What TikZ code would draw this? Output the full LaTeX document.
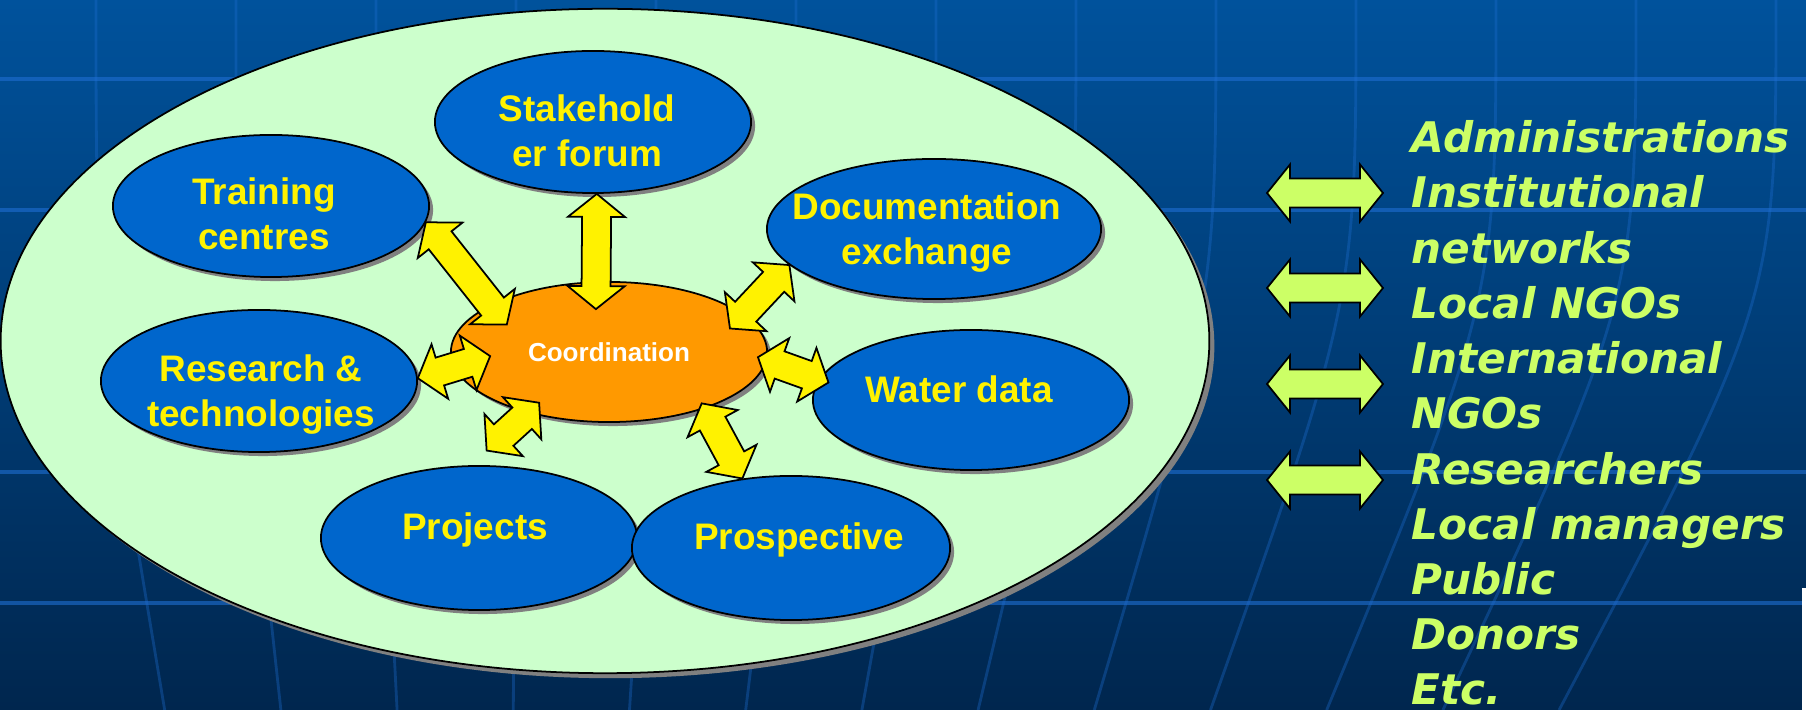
\documentclass[tikz,border=0pt]{standalone}
\usepackage{fontspec}
\setmainfont{Liberation Sans}
\newfontfamily\listfont{DejaVu Sans Bold Oblique}
\usetikzlibrary{calc, shadows, shapes.geometric}
\definecolor{bgtop}{RGB}{0,82,156}
\definecolor{bgbot}{RGB}{0,38,78}
\definecolor{gridblue}{RGB}{30,110,210}
\definecolor{poolgreen}{RGB}{204,255,204}
\definecolor{blobblue}{RGB}{0,102,204}
\definecolor{huborange}{RGB}{255,153,0}
\definecolor{lime}{RGB}{204,255,102}
\tikzstyle{gridline} = [gridblue, line width=0.8pt, opacity=0.35]
\tikzstyle{gridrow} = [gridblue, line width=1pt, opacity=0.6]
\tikzstyle{pool} = [ellipse, draw=black, line width=0.5pt, fill=poolgreen, minimum width=12.08cm, minimum height=6.64cm, inner sep=0pt, drop shadow={shadow xshift=0.05cm, shadow yshift=-0.05cm, fill=black!50, opacity=1}]
\tikzstyle{blob} = [ellipse, draw=black, line width=0.5pt, fill=blobblue, minimum width=3.16cm, minimum height=1.42cm, inner sep=0pt, drop shadow={shadow xshift=0.04cm, shadow yshift=-0.04cm, fill=black!50, opacity=1}]
\tikzstyle{hub} = [blob, fill=huborange, text=white, font=\bfseries\fontsize{7.4}{9}\selectfont]
\tikzstyle{lbl} = [text=yellow, font=\bfseries\fontsize{10.5}{12.8}\selectfont, align=center, inner sep=0pt]
\tikzstyle{listtext} = [text=lime, font=\listfont\fontsize{12}{15.7}\selectfont, align=left, inner sep=0pt]
\tikzstyle{arrowshape} = [draw=black, line width=0.5pt, line join=miter]
\def\hdlen{0.23cm}
\def\hdwd{0.285cm}
\def\shwd{0.145cm}
% double block arrow between two named points
\newcommand{\blockarrow}[3][yellow]{%
  \filldraw[arrowshape, fill=#1] (#2)
    -- ($(#2)!\hdlen!(#3)!\hdwd!90:(#3)$)
    -- ($(#2)!\hdlen!(#3)!\shwd!90:(#3)$)
    -- ($(#3)!\hdlen!(#2)!\shwd!-90:(#2)$)
    -- ($(#3)!\hdlen!(#2)!\hdwd!-90:(#2)$)
    -- (#3)
    -- ($(#3)!\hdlen!(#2)!\hdwd!90:(#2)$)
    -- ($(#3)!\hdlen!(#2)!\shwd!90:(#2)$)
    -- ($(#2)!\hdlen!(#3)!\shwd!-90:(#3)$)
    -- ($(#2)!\hdlen!(#3)!\hdwd!-90:(#3)$)
    -- cycle;}

\begin{document}
\begin{tikzpicture}[x=0.01cm, y=-0.01cm]
	\useasboundingbox (0,0) rectangle (1806,710);
	% background
	\fill[top color=bgtop, bottom color=bgbot] (0,0) rectangle (1806,710);
	\foreach \t [evaluate=\t as \b using 0.83*\t+85] in {96,236,...,1776}
		\draw[gridline] (\t,0) .. controls (\t,300) .. (\b,710);
	\foreach \h in {79,210,472,603}
		\draw[gridrow] (0,\h) -- (1806,\h);
	\fill[white] (1802,588) rectangle (1806,710);
	% network
	\node (Pool) [pool] at (605,341) {};
	\node (Stake) [blob] at (593,122) {};
	\node (Train) [blob] at (271,206) {};
	\node (Docs) [blob, minimum width=3.34cm, minimum height=1.40cm] at (934,229) {};
	\node (Research) [blob] at (259,381) {};
	\node (Water) [blob, minimum height=1.40cm] at (971,400) {};
	\node (Projects) [blob, minimum height=1.44cm] at (479,538) {};
	\node (Prosp) [blob, minimum width=3.18cm, minimum height=1.44cm] at (791,548) {};
	\node (Hub) [hub, minimum height=1.40cm] at (609,352) {Coordination};
	\node (StakeText) [lbl] at ($(Stake)+(-6,9)$) {Stakehold\\er forum};
	\node (TrainText) [lbl] at ($(Train)+(-7,8)$) {Training\\centres};
	\node (DocsText) [lbl] at ($(Docs)+(-7,4)$) {Documentation\\exchange};
	\node (ResearchText) [lbl] at ($(Research)+(2,14)$) {Research \&\\technologies};
	\node (WaterText) [lbl] at ($(Water)+(-12,-11)$) {Water data};
	\node (ProjectsText) [lbl] at ($(Projects)+(-4,-8)$) {Projects};
	\node (ProspText) [lbl] at ($(Prosp)+(8,-8)$) {Prospective};
	% arrow ends
	\coordinate (a1) at (Stake.-87);
	\coordinate (b1) at ($(Hub)!.61!(Hub.107)$);
	\coordinate (a2) at (Train.-6);
	\coordinate (b2) at ($(Hub)!.75!(Hub.165)$);
	\coordinate (a3) at (Docs.194);
	\coordinate (b3) at ($(Hub)!.83!(Hub.11)$);
	\coordinate (a4) at ($(Water)!.93!(Water.173)$);
	\coordinate (b4) at ($(Hub)!.94!(Hub.-2)$);
	\coordinate (a5) at (Research.1);
	\coordinate (b5) at ($(Hub)!.75!(Hub.182)$);
	\coordinate (a6) at ($(Projects)!1.2!(Projects.85)$);
	\coordinate (b6) at ($(Hub)!.84!(Hub.216)$);
	\coordinate (a7) at (Prosp.125);
	\coordinate (b7) at ($(Hub)!.93!(Hub.-29)$);
	\foreach \i in {1,...,7}
		\blockarrow{a\i}{b\i};
	% partners
	\foreach \yy [count=\i] in {193,288,384,480} {
		\coordinate (pl\i) at (1267,\yy);
		\coordinate (pr\i) at (1383,\yy);
		\blockarrow[lime]{pl\i}{pr\i}
	}
	\node (Partners) [listtext, anchor=north west] at (1411,120) {Administrations\\Institutional\\networks\\Local NGOs\\International\\NGOs\\Researchers\\Local managers\\Public\\Donors\\Etc.};
\end{tikzpicture}
\end{document}
